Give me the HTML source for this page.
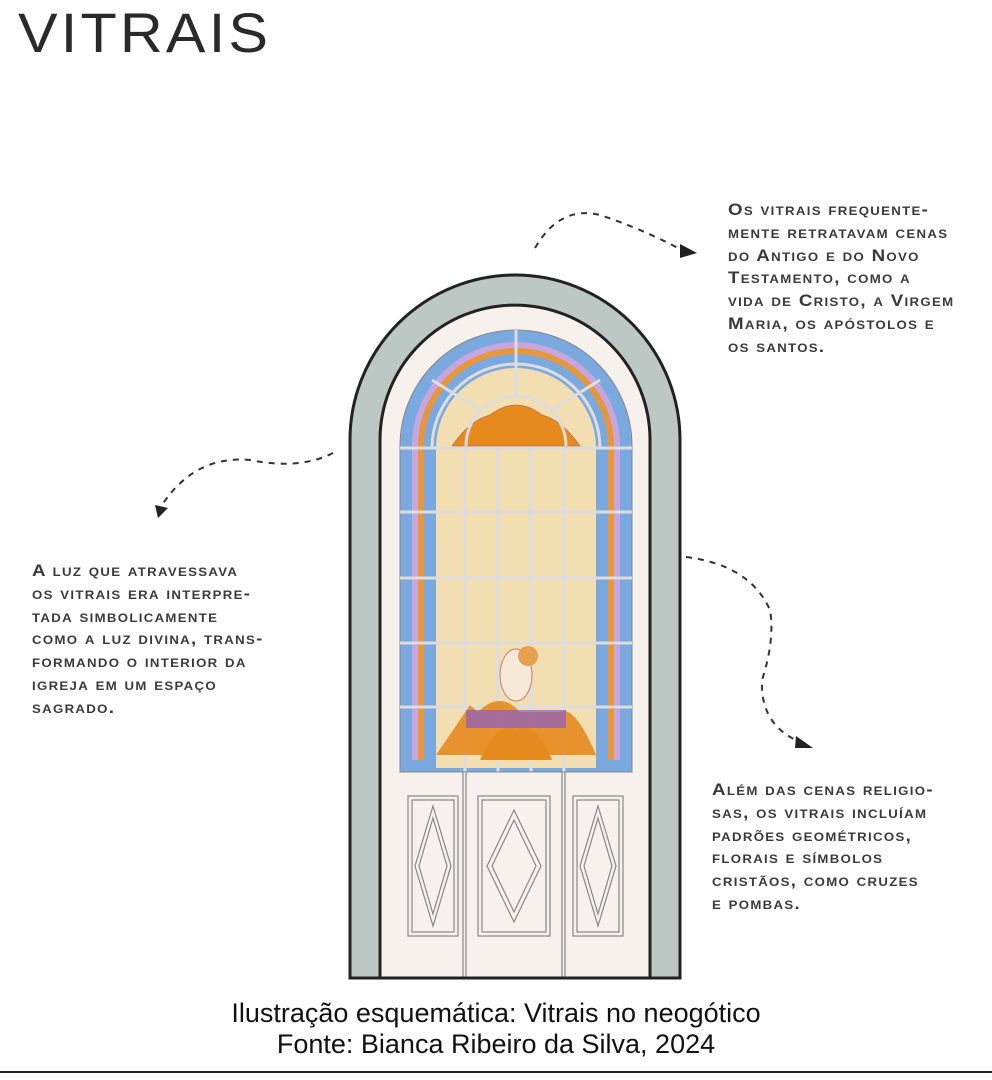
<!DOCTYPE html>
<html><head><meta charset="utf-8"><style>
body{margin:0;width:992px;height:1080px;background:#fff;position:relative;overflow:hidden;font-family:"Liberation Sans",sans-serif}
.t{position:absolute;color:#3a3a3a;font-variant:small-caps;font-size:17px;letter-spacing:1.2px;line-height:22.8px;white-space:nowrap;font-weight:bold;transform:scaleX(1.1);transform-origin:left top}
.cap{position:absolute;left:0;width:992px;text-align:center;font-size:27px;color:#111;line-height:32px}
</style></head><body>
<div style="position:absolute;left:18px;top:0px;font-size:56px;color:#2a2a2a;letter-spacing:3px;font-weight:normal;transform:scaleX(1.06);transform-origin:left">VITRAIS</div>

<svg width="992" height="1080" style="position:absolute;left:0;top:0">
<path d="M350,978 V440 A165,165 0 0 1 680,440 V978 Z" fill="#bdc8c4" stroke="#222" stroke-width="3"/>
<path d="M380,978 V440 A135,135 0 0 1 650,440 V978 Z" fill="#f6f1ec" stroke="#222" stroke-width="3"/>
<path d="M400,772 V446 A116,116 0 0 1 632,446 V772 Z" fill="#7aa9e0" stroke="#888" stroke-width="1"/>
<path d="M412,760 V446 A104,104 0 0 1 620,446 V760 Z" fill="#c7a6e0"/>
<path d="M418,760 V446 A98,98 0 0 1 614,446 V760 Z" fill="#e8963a"/>
<path d="M424,760 V446 A92,92 0 0 1 608,446 V760 Z" fill="#7aa9e0"/>
<path d="M432,772 V448 A84,84 0 0 1 600,448 V772 Z" fill="#7aa9e0"/>
<path d="M436,768 V448 A80,80 0 0 1 596,448 V768 Z" fill="#f3deb1"/>
<path d="M452,446 Q470,420 490,415 Q516,395 542,415 Q562,420 580,446 Z" fill="#e68a1e" stroke="#a55" stroke-width=".6"/>
<path d="M466,446 A50,50 0 0 1 566,446" fill="none" stroke="#ddd" stroke-width="3"/>
<path d="M432,448 A84,84 0 0 1 600,448" fill="none" stroke="#ddd" stroke-width="3"/>
<g stroke="#ddd" stroke-width="3">
<line x1="516" y1="330" x2="516" y2="396"/>
<line x1="432" y1="380" x2="480" y2="410"/>
<line x1="600" y1="380" x2="552" y2="410"/>
<line x1="400" y1="448" x2="632" y2="448"/>
<line x1="400" y1="512" x2="632" y2="512"/>
<line x1="400" y1="578" x2="632" y2="578"/>
<line x1="400" y1="643" x2="632" y2="643"/>
<line x1="400" y1="707" x2="632" y2="707"/>
<line x1="465" y1="448" x2="465" y2="772"/>
<line x1="498" y1="448" x2="498" y2="772"/>
<line x1="531" y1="448" x2="531" y2="772"/>
<line x1="564" y1="448" x2="564" y2="772"/>
</g>
<path d="M436,755 Q460,720 470,705 L478,712 Q500,690 520,712 L560,712 Q575,705 596,755 Z" fill="#e68a1e" opacity=".9"/>
<rect x="466" y="710" width="100" height="18" fill="#8a5cc8" opacity=".7"/>
<path d="M480,760 Q498,720 516,730 Q536,720 552,760 Z" fill="#e68a1e"/>
<ellipse cx="516" cy="675" rx="16" ry="26" fill="#f7e9d8" stroke="#c77" stroke-width="1"/>
<circle cx="528" cy="656" r="10" fill="#e6a050"/>
<line x1="400" y1="772" x2="632" y2="772" stroke="#888"/>
<g stroke="#888" fill="none" stroke-width="1.2">
<line x1="463" y1="772" x2="463" y2="978"/><line x1="466" y1="772" x2="466" y2="978"/>
<line x1="562" y1="772" x2="562" y2="978"/><line x1="565" y1="772" x2="565" y2="978"/>
<rect x="408" y="796" width="50" height="140"/><rect x="412" y="800" width="42" height="132"/>
<rect x="478" y="796" width="72" height="140"/><rect x="482" y="800" width="64" height="132"/>
<rect x="573" y="796" width="50" height="140"/><rect x="577" y="800" width="42" height="132"/>
<path d="M433,806 L451,866 L433,926 L415,866 Z"/><path d="M433,818 L447,866 L433,914 L419,866 Z"/>
<path d="M514,810 L541,866 L514,922 L487,866 Z"/><path d="M514,820 L536,866 L514,912 L492,866 Z"/>
<path d="M598,806 L616,866 L598,926 L580,866 Z"/><path d="M598,818 L612,866 L598,914 L584,866 Z"/>
</g>
<line x1="350" y1="978" x2="680" y2="978" stroke="#222" stroke-width="3"/>
<g fill="none" stroke="#333" stroke-width="2" stroke-dasharray="6,6">
<path d="M535,248 Q560,205 600,215 Q640,228 682,250"/>
<path d="M333,453 Q300,470 250,460 Q195,455 162,505"/>
<path d="M686,557 Q750,565 770,610 Q775,640 762,680 Q760,725 800,742"/>
</g>
<polygon points="680,244 697,253 680,258" fill="#222"/>
<polygon points="155,505 168,508 158,518" fill="#222"/>
<polygon points="796,736 813,748 795,748" fill="#222"/>
<line x1="0" y1="1072" x2="992" y2="1072" stroke="#222" stroke-width="2"/>
</svg>

<div class="t" style="left:728px;top:199px">Os vitrais frequente-<br>mente retratavam cenas<br>do Antigo e do Novo<br>Testamento, como a<br>vida de Cristo, a Virgem<br>Maria, os apóstolos e<br>os santos.</div>
<div class="t" style="left:32px;top:560px">A luz que atravessava<br>os vitrais era interpre-<br>tada simbolicamente<br>como a luz divina, trans-<br>formando o interior da<br>igreja em um espaço<br>sagrado.</div>
<div class="t" style="left:712px;top:779px">Além das cenas religio-<br>sas, os vitrais incluíam<br>padrões geométricos,<br>florais e símbolos<br>cristãos, como cruzes<br>e pombas.</div>

<div class="cap" style="top:997px">Ilustração esquemática: Vitrais no neogótico</div>
<div class="cap" style="top:1028px">Fonte: Bianca Ribeiro da Silva, 2024</div>
</body></html>
